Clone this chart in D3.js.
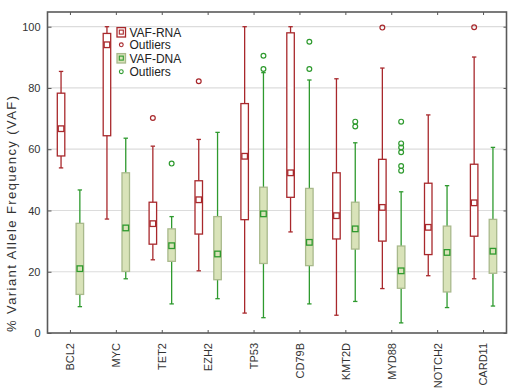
<!DOCTYPE html>
<html><head><meta charset="utf-8">
<script src="https://cdn.jsdelivr.net/npm/d3@7"></script>
<style>body{margin:0;background:#fff}svg{display:block}</style>
</head><body>
<svg id="chart" width="520" height="391"></svg>
<script>
const categories = ["BCL2","MYC","TET2","EZH2","TP53","CD79B","KMT2D","MYD88","NOTCH2","CARD11"];
const yTicks = [0,20,40,60,80,100];

const rnaMin = [53.9,37.2,23.9,20.3,6.5,33,5.8,14.5,18.7,17.7];
const rnaQ1  = [57.8,64.4,29,32.3,37,44.3,30.7,30,25.6,31.6];
const rnaMed = [66.7,94.1,35.7,43.5,57.7,52.3,38.3,41,34.5,42.5];
const rnaQ3  = [78.3,97.8,42.7,49.7,74.9,98,52.3,56.7,48.9,55.1];
const rnaMax = [85.4,100,61,63.2,100,100,83,86.5,71.2,90.1];
const rnaOut = [[],[],[70.2],[82.2],[],[],[],[99.7],[],[99.8]];

const dnaMin = [8.6,17.7,9.5,11.2,5,9.5,10.3,3.3,8.3,8.8];
const dnaQ1  = [12.6,20.1,23.4,17.4,22.7,22,27.4,14.6,13.4,19.5];
const dnaMed = [21,34.3,28.5,25.8,38.9,29.6,34,20.3,26.3,26.7];
const dnaQ3  = [35.8,52.3,34,38,47.6,47.2,42.7,28.4,34.9,37.1];
const dnaMax = [46.7,63.6,38,65.5,85,82.6,62.1,46.1,48.1,60.6];
const dnaOut = [[],[],[55.3],[],[86.2,90.5],[86.2,95.1],[67.4,69],[53,54.5,59,60.6,61.9,69],[],[]];

const FONT = "Arial, 'Liberation Sans', sans-serif";
const svg = d3.select("#chart");
const L = 47.5, R = 506.5, T = 12, B = 333;
const x = d3.scaleBand().domain(categories).range([L, R]);
const y = d3.scaleLinear().domain([0, 100]).range([B, 26.7]);

const RED = "#a8282c", GREEN = "#2e9a2e", GFILL = "#d9e3b9", GBOX = "#a9b98c";

// gridlines
svg.append("g").selectAll("line").data(yTicks.filter(d => d > 0)).join("line")
  .attr("x1", L).attr("x2", R).attr("y1", d => y(d)).attr("y2", d => y(d))
  .attr("stroke", "#dcdcdc").attr("stroke-width", 1.2);

// left axis
const gy = svg.append("g").attr("transform", `translate(${L},0)`)
  .call(d3.axisLeft(y).tickValues(yTicks).tickSize(-4).tickPadding(7));
gy.select(".domain").remove();
gy.selectAll("line").attr("stroke", "#555");
gy.selectAll("text").attr("font-family", FONT).attr("font-size", 11).attr("fill", "#333");

// right ticks
svg.append("g").attr("transform", `translate(${R},0)`)
  .call(d3.axisRight(y).tickValues(yTicks).tickSize(-3).tickFormat(""))
  .call(g => { g.select(".domain").remove(); g.selectAll("line").attr("stroke", "#555"); });

// bottom axis
const gx = svg.append("g").attr("transform", `translate(0,${B})`)
  .call(d3.axisBottom(x).tickSize(3));
gx.select(".domain").remove();
gx.selectAll("line").attr("stroke", "#555").attr("y1", -3).attr("y2", 0);
gx.selectAll("text").attr("font-family", FONT).attr("font-size", 11).attr("fill", "#333")
  .attr("x", 0).attr("y", 0).attr("dx", 0).attr("dy", "0.35em")
  .attr("text-anchor", "end")
  .attr("transform", "translate(0,10) rotate(-90)");

// top ticks
svg.append("g").attr("transform", `translate(0,${T})`)
  .call(d3.axisTop(x).tickSize(-3).tickFormat(""))
  .call(g => { g.select(".domain").remove(); g.selectAll("line").attr("stroke", "#555"); });

// frame
svg.append("rect").attr("x", L).attr("y", T).attr("width", R - L).attr("height", B - T)
  .attr("fill", "none").attr("stroke", "#5a5a5a").attr("stroke-width", 1.6);

// y title
svg.append("text").attr("transform", "translate(16,214) rotate(-90)")
  .attr("text-anchor", "middle").attr("font-family", FONT)
  .attr("font-size", 13).attr("fill", "#333")
  .attr("textLength", 236).attr("lengthAdjust", "spacing")
  .text("% Variant Allele Frequency (VAF)");

function drawSeries(off, mins, q1s, meds, q3s, maxs, outs, stroke, fill, boxStroke, medFill) {
  const g = svg.append("g");
  const cx = i => x(categories[i]) + x.bandwidth() / 2 + off;
  const idx = d3.range(categories.length);
  const bw = 7.5, cap = 2.2;
  g.selectAll(".wl").data(idx).join("line")
    .attr("x1", cx).attr("x2", cx).attr("y1", i => y(maxs[i])).attr("y2", i => y(mins[i]))
    .attr("stroke", stroke).attr("stroke-width", 1.3);
  g.selectAll(".ct").data(idx).join("line")
    .attr("x1", i => cx(i) - cap).attr("x2", i => cx(i) + cap).attr("y1", i => y(maxs[i])).attr("y2", i => y(maxs[i]))
    .attr("stroke", stroke).attr("stroke-width", 1.3);
  g.selectAll(".cb").data(idx).join("line")
    .attr("x1", i => cx(i) - cap).attr("x2", i => cx(i) + cap).attr("y1", i => y(mins[i])).attr("y2", i => y(mins[i]))
    .attr("stroke", stroke).attr("stroke-width", 1.3);
  g.selectAll(".bx").data(idx).join("rect")
    .attr("x", i => cx(i) - bw / 2).attr("width", bw)
    .attr("y", i => y(q3s[i])).attr("height", i => y(q1s[i]) - y(q3s[i]))
    .attr("fill", fill).attr("stroke", boxStroke).attr("stroke-width", 1.3);
  g.selectAll(".md").data(idx).join("rect")
    .attr("x", i => cx(i) - 2.8).attr("width", 5.6)
    .attr("y", i => y(meds[i]) - 2.8).attr("height", 5.6)
    .attr("fill", medFill).attr("stroke", stroke).attr("stroke-width", 1.3);
  const od = [];
  outs.forEach((arr, i) => arr.forEach(v => od.push({ i, v })));
  g.selectAll(".ol").data(od).join("circle")
    .attr("cx", d => cx(d.i)).attr("cy", d => y(d.v)).attr("r", 2.4)
    .attr("fill", "none").attr("stroke", stroke).attr("stroke-width", 1.2);
}

drawSeries(-9.4, rnaMin, rnaQ1, rnaMed, rnaQ3, rnaMax, rnaOut, RED, "#fff", RED, "#fff");
drawSeries(9.4, dnaMin, dnaQ1, dnaMed, dnaQ3, dnaMax, dnaOut, GREEN, GFILL, GBOX, GFILL);

// legend
const lg = svg.append("g").attr("font-family", FONT).attr("font-size", 12).attr("fill", "#222");
const items = [
  { label: "VAF-RNA", type: "box", c: RED, f: "#fff", bs: RED, y: 32.3 },
  { label: "Outliers", type: "out", c: RED, y: 44.8 },
  { label: "VAF-DNA", type: "box", c: GREEN, f: GFILL, bs: GBOX, y: 58.3 },
  { label: "Outliers", type: "out", c: GREEN, y: 71.7 }
];
items.forEach(it => {
  if (it.type === "box") {
    lg.append("rect").attr("x", 117).attr("y", it.y - 4.7).attr("width", 8.5).attr("height", 9.4)
      .attr("fill", it.f).attr("stroke", it.bs).attr("stroke-width", 1.3);
    lg.append("rect").attr("x", 119.3).attr("y", it.y - 2.2).attr("width", 4).attr("height", 4)
      .attr("fill", it.f).attr("stroke", it.c).attr("stroke-width", 1.1);
  } else {
    lg.append("circle").attr("cx", 121.3).attr("cy", it.y).attr("r", 1.9)
      .attr("fill", "none").attr("stroke", it.c).attr("stroke-width", 1.1);
  }
  lg.append("text").attr("x", 129.5).attr("y", it.y).attr("dy", "0.36em").text(it.label);
});
</script>
</body></html>
